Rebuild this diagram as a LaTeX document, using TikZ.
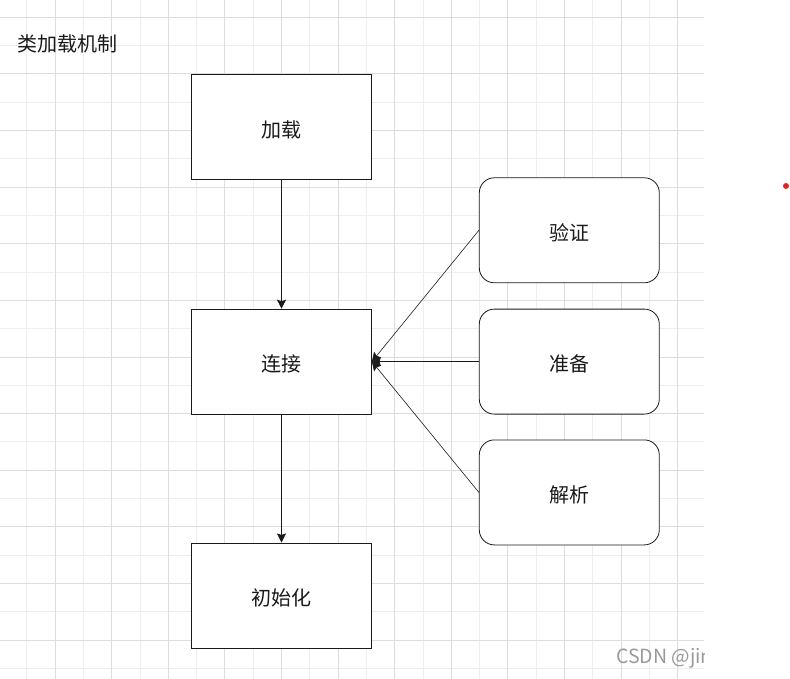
\documentclass[tikz,border=0pt]{standalone}
\usepackage{fontspec}
\setmainfont{Noto Sans CJK SC}
\usetikzlibrary{arrows.meta,positioning}
\definecolor{gridMinor}{HTML}{EEEEEE}
\definecolor{gridMajor}{HTML}{DDDDDD}
\definecolor{markRed}{HTML}{E52222}
\definecolor{inkDark}{HTML}{1A1A1A}
\tikzset{
  stepbox/.style={draw=inkDark, line width=0.8pt, fill=white, minimum width=180pt, minimum height=105pt, font=\fontsize{20}{24}\selectfont, text=inkDark, text height=23pt, text depth=2.4pt},
  subbox/.style={stepbox, rounded corners=15pt},
  arrflow/.style={-{Stealth[length=9pt,width=9pt,inset=1.5pt]}, line width=0.8pt, draw=inkDark},
  arrside/.style={arrflow, line width=0.6pt},
}
\begin{document}
\begin{tikzpicture}[x=1pt, y=-1pt]
\useasboundingbox (0,0) rectangle (790,679);
\foreach \k in {0,...,11} {
  \draw[gridMinor, line width=0.8pt] ({26.7+56.6*\k},0) -- ++(0,679);
  \draw[gridMinor, line width=0.8pt] (0,{45.6+56.6*\k}) -- ++(704,0);
}
\foreach \k in {0,...,11} {
  \draw[gridMajor, line width=0.8pt] ({55+56.6*\k},0) -- ++(0,679);
  \draw[gridMajor, line width=0.8pt] (0,{17.3+56.6*\k}) -- ++(704,0);
}

\node[anchor=west, inner sep=0pt, font=\fontsize{20}{24}\selectfont, text=inkDark] (title) at (17,44) {类加载机制};

\node[stepbox] (load) at (281.5,126.8) {加载};
\node[stepbox, below=129pt of load] (link) {连接};
\node[stepbox, below=128pt of link] (init) {初始化};

\node[subbox, right=107pt of link] (prepare) {准备};
\node[subbox, above=25.5pt of prepare] (verify) {验证};
\node[subbox, below=25pt of prepare] (resolve) {解析};

\draw[arrflow] (load) -- (link);
\draw[arrflow] (link) -- (init);
\draw[arrside] (verify.west) -- (link.east);
\draw[arrside] (prepare.west) -- (link.east);
\draw[arrside] (resolve.west) -- (link.east);

\begin{scope}
\clip (0,0) rectangle (704,679);
\node[anchor=west, inner sep=0pt, font=\fontsize{19.5}{22}\selectfont, text=black!40] (mark) at (616,658) {CSDN @jin};
\end{scope}
\fill[markRed] (786,186) circle (3pt);
\end{tikzpicture}
\end{document}
